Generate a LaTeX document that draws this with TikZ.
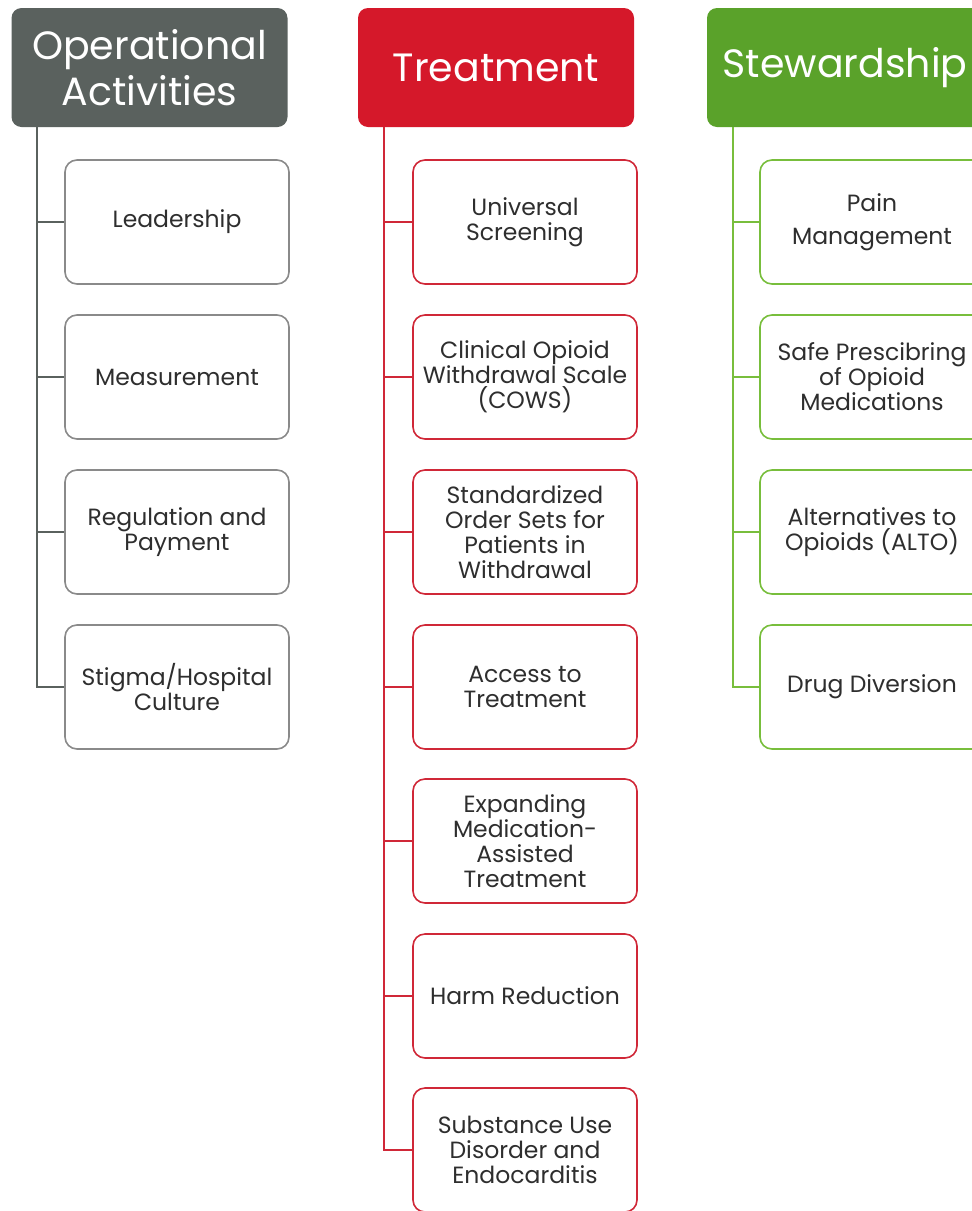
\documentclass[tikz,border=0pt]{standalone}
\usepackage{fontspec}
\setmainfont{Poppins}
\definecolor{opgray}{HTML}{5A615E}
\definecolor{trred}{HTML}{D5182A}
\definecolor{stgreen}{HTML}{5AA22A}
\definecolor{opline}{HTML}{8A8A8A}
\definecolor{trline}{HTML}{D02838}
\definecolor{stline}{HTML}{78BE3C}
\definecolor{txt}{HTML}{2E2E2E}
\begin{document}
\begin{tikzpicture}[x=1pt,y=-1pt,
  header/.style={rounded corners=10, minimum width=276, minimum height=119, align=center, text=white, font=\fontsize{39.5}{46}\selectfont, inner sep=0},
  box/.style={draw, rounded corners=12, line width=1.6, minimum width=224, minimum height=124, align=center, text=txt, fill=white, font=\fontsize{23.5}{25}\selectfont, inner sep=0},
  opbox/.style={box, draw=opline},
  trbox/.style={box, draw=trline},
  stbox/.style={box, draw=stline},
  oplink/.style={draw=opgray, line width=1.6},
  trlink/.style={draw=trline, line width=1.6},
  stlink/.style={draw=stline, line width=1.6}]
\useasboundingbox (0,0) rectangle (972,1211);
\clip (0,0) rectangle (972,1211);
\fill[white] (0,0) rectangle (972,1211);

% Column 1
\node[header, fill=opgray] (h1) at (149.5,67.5) {Operational\\Activities};
\coordinate (t1) at (37,127);
\node[opbox] (a1) at (177,222) {Leadership};
\node[opbox] (a2) at (177,377) {Measurement};
\node[opbox] (a3) at (177,532) {Regulation and\\Payment};
\node[opbox] (a4) at (177,687) {Stigma/Hospital\\Culture};
\draw[oplink] (t1) |- (a4.west);
\foreach \i in {1,2,3} \draw[oplink] (a\i.west) -- (a\i.west -| t1);

% Column 2
\node[header, fill=trred] (h2) at (496,67.5) {Treatment};
\coordinate (t2) at (384,127);
\node[trbox] (b1) at (525,222) {Universal\\Screening};
\node[trbox] (b2) at (525,377) {Clinical Opioid\\Withdrawal Scale\\(COWS)};
\node[trbox] (b3) at (525,532) {Standardized\\Order Sets for\\Patients in\\Withdrawal};
\node[trbox] (b4) at (525,687) {Access to\\Treatment};
\node[trbox] (b5) at (525,841) {Expanding\\Medication-\\Assisted\\Treatment};
\node[trbox] (b6) at (525,996) {Harm Reduction};
\node[trbox] (b7) at (525,1150) {Substance Use\\Disorder and\\Endocarditis};
\draw[trlink] (t2) |- (b7.west);
\foreach \i in {1,...,6} \draw[trlink] (b\i.west) -- (b\i.west -| t2);

% Column 3
\node[header, fill=stgreen] (h3) at (845,67.5) {Stewardship};
\coordinate (t3) at (733,127);
\node[stbox] (c1) at (872,222) {Pain\\[8pt]Management};
\node[stbox] (c2) at (872,377) {Safe Prescibring\\of Opioid\\Medications};
\node[stbox] (c3) at (872,532) {Alternatives to\\Opioids (ALTO)};
\node[stbox] (c4) at (872,687) {Drug Diversion};
\draw[stlink] (t3) |- (c4.west);
\foreach \i in {1,2,3} \draw[stlink] (c\i.west) -- (c\i.west -| t3);
\end{tikzpicture}
\end{document}
